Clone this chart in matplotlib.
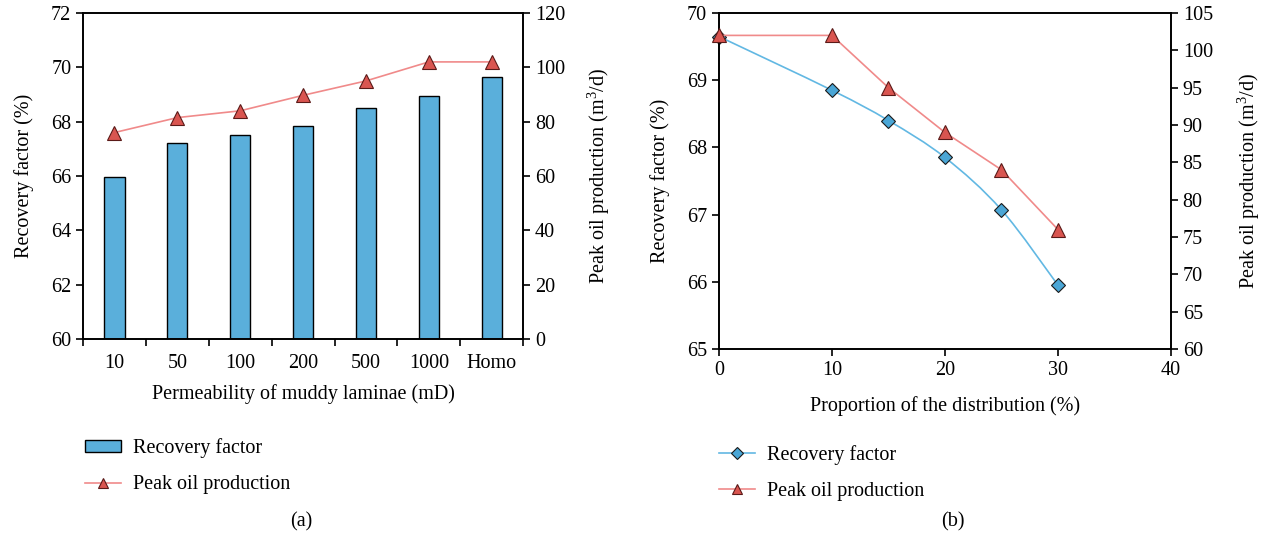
import numpy as np
import matplotlib
matplotlib.use("Agg")
import matplotlib.pyplot as plt
from matplotlib.path import Path
from matplotlib.patches import PathPatch, Patch
from matplotlib.lines import Line2D

plt.rcParams['font.family'] = ['Liberation Serif', 'DejaVu Serif']
plt.rcParams['mathtext.fontset'] = 'custom'
plt.rcParams['mathtext.rm'] = 'Liberation Serif'

# ---- data (a) ----
perm_labels = ["10", "50", "100", "200", "500", "1000", "Homo"]
rf_a = [65.95, 67.2, 67.5, 67.85, 68.5, 68.95, 69.65]
peak_a = [76, 81.5, 84, 89.7, 95, 102, 102]

# ---- data (b) ----
prop_b = [0, 10, 15, 20, 25, 30]
rf_b = [69.65, 68.85, 68.4, 67.85, 67.07, 65.95]
peak_b = [102, 102, 95, 89, 84, 76]

BAR = "#5aafdb"
RED_LINE = "#f08a8a"
RED_MK = "#d95550"
BLUE_LINE = "#62b8e3"
BLUE_MK = "#4aa6d6"
FS = 14.5

fig = plt.figure(figsize=(12.7, 5.44), dpi=100)

# ================= (a) =================
axa = fig.add_axes([0.0654, 0.3768, 0.3465, 0.5993])
x = np.arange(len(perm_labels))
axa.bar(x, [v - 60 for v in rf_a], bottom=60, width=0.32, color=BAR,
        edgecolor="black", linewidth=1.0, zorder=2)
axa.set_xlim(-0.5, len(perm_labels) - 0.5)
axa.set_ylim(60, 72)
axa.set_yticks(np.arange(60, 73, 2))
axa.set_xticks(np.arange(-0.5, len(perm_labels), 1.0))
axa.set_xticklabels([])
axa.set_xticks(x, minor=True)
axa.set_xticklabels(perm_labels, minor=True)
axa.tick_params(axis='x', which='minor', length=0, pad=11, labelsize=FS)
axa.tick_params(axis='x', which='major', direction='out', length=5, width=1.2)
axa.tick_params(axis='y', direction='out', length=5, width=1.2, labelsize=FS)
axa.set_ylabel("Recovery factor (%)", fontsize=FS, labelpad=12)
axa.set_xlabel("Permeability of muddy laminae (mD)", fontsize=FS, labelpad=8)
for s in axa.spines.values():
    s.set_linewidth(1.2)

axa2 = axa.twinx()
axa2.plot(x, peak_a, color=RED_LINE, lw=1.2, marker="^", markersize=10,
          markerfacecolor=RED_MK, markeredgecolor="#5a1a18", markeredgewidth=0.8, zorder=3)
axa2.set_ylim(0, 120)
axa2.set_yticks(np.arange(0, 121, 20))
axa2.tick_params(axis='y', direction='out', length=5, width=1.2, labelsize=FS)
axa2.set_ylabel("Peak oil production (m$^3$/d)", fontsize=FS, labelpad=14)
for s in axa2.spines.values():
    s.set_linewidth(1.2)

h_a = [Patch(facecolor=BAR, edgecolor="black", linewidth=1.0),
       Line2D([], [], color=RED_LINE, lw=1.2, marker="^", markersize=7,
              markerfacecolor=RED_MK, markeredgecolor="#5a1a18", markeredgewidth=0.8)]
fig.legend(h_a, ["Recovery factor", "Peak oil production"], loc="upper left",
           bbox_to_anchor=(0.0525, 0.228), frameon=False, fontsize=FS,
           handlelength=1.8, handleheight=0.5, labelspacing=0.85, handletextpad=0.6)

fig.text(0.237, 0.04, "(a)", ha="center", va="center", fontsize=FS)

# ================= (b) =================
axb = fig.add_axes([0.5661, 0.3585, 0.3559, 0.6176])
axb.set_xlim(0, 40)
axb.set_ylim(65, 70)
axb.set_xticks(np.arange(0, 41, 10))
axb.set_yticks(np.arange(65, 70.1, 1))
axb.tick_params(axis='both', direction='out', length=5, width=1.2, labelsize=FS)
axb.set_ylabel("Recovery factor (%)", fontsize=FS, labelpad=12)
axb.set_xlabel("Proportion of the distribution (%)", fontsize=FS, labelpad=12)
for s in axb.spines.values():
    s.set_linewidth(1.2)

# smooth line through the recovery points (Catmull-Rom as cubic Bezier)
xs = np.asarray(prop_b, float)
ys = np.asarray(rf_b, float)
verts = [(xs[0], ys[0])]
codes = [Path.MOVETO]
n = len(xs)
for i in range(n - 1):
    p0 = (xs[max(i - 1, 0)], ys[max(i - 1, 0)])
    p1 = (xs[i], ys[i])
    p2 = (xs[i + 1], ys[i + 1])
    p3 = (xs[min(i + 2, n - 1)], ys[min(i + 2, n - 1)])
    c1 = (p1[0] + (p2[0] - p0[0]) / 6, p1[1] + (p2[1] - p0[1]) / 6)
    c2 = (p2[0] - (p3[0] - p1[0]) / 6, p2[1] - (p3[1] - p1[1]) / 6)
    verts += [c1, c2, p2]
    codes += [Path.CURVE4] * 3
axb.add_patch(PathPatch(Path(verts, codes), facecolor="none", edgecolor=BLUE_LINE,
                        lw=1.2, zorder=2, clip_on=False))
axb.plot(prop_b, rf_b, ls="none", marker="D", markersize=7,
         markerfacecolor=BLUE_MK, markeredgecolor="#1a1a1a", markeredgewidth=0.8,
         zorder=4, clip_on=False)

axb2 = axb.twinx()
axb2.plot(prop_b, peak_b, color=RED_LINE, lw=1.2, marker="^", markersize=10,
          markerfacecolor=RED_MK, markeredgecolor="#5a1a18", markeredgewidth=0.8,
          zorder=3, clip_on=False)
axb2.set_ylim(60, 105)
axb2.set_yticks(np.arange(60, 106, 5))
axb2.tick_params(axis='y', direction='out', length=5, width=1.2, labelsize=FS)
axb2.set_ylabel("Peak oil production (m$^3$/d)", fontsize=FS, labelpad=16)
for s in axb2.spines.values():
    s.set_linewidth(1.2)

h_b = [Line2D([], [], color=BLUE_LINE, lw=1.2, marker="D", markersize=6,
              markerfacecolor=BLUE_MK, markeredgecolor="#1a1a1a", markeredgewidth=0.8),
       Line2D([], [], color=RED_LINE, lw=1.2, marker="^", markersize=7,
              markerfacecolor=RED_MK, markeredgecolor="#5a1a18", markeredgewidth=0.8)]
fig.legend(h_b, ["Recovery factor", "Peak oil production"], loc="upper left",
           bbox_to_anchor=(0.5515, 0.215), frameon=False, fontsize=FS,
           handlelength=1.8, labelspacing=0.85, handletextpad=0.6)

fig.text(0.750, 0.04, "(b)", ha="center", va="center", fontsize=FS)

fig.savefig("out.png", dpi=100)
